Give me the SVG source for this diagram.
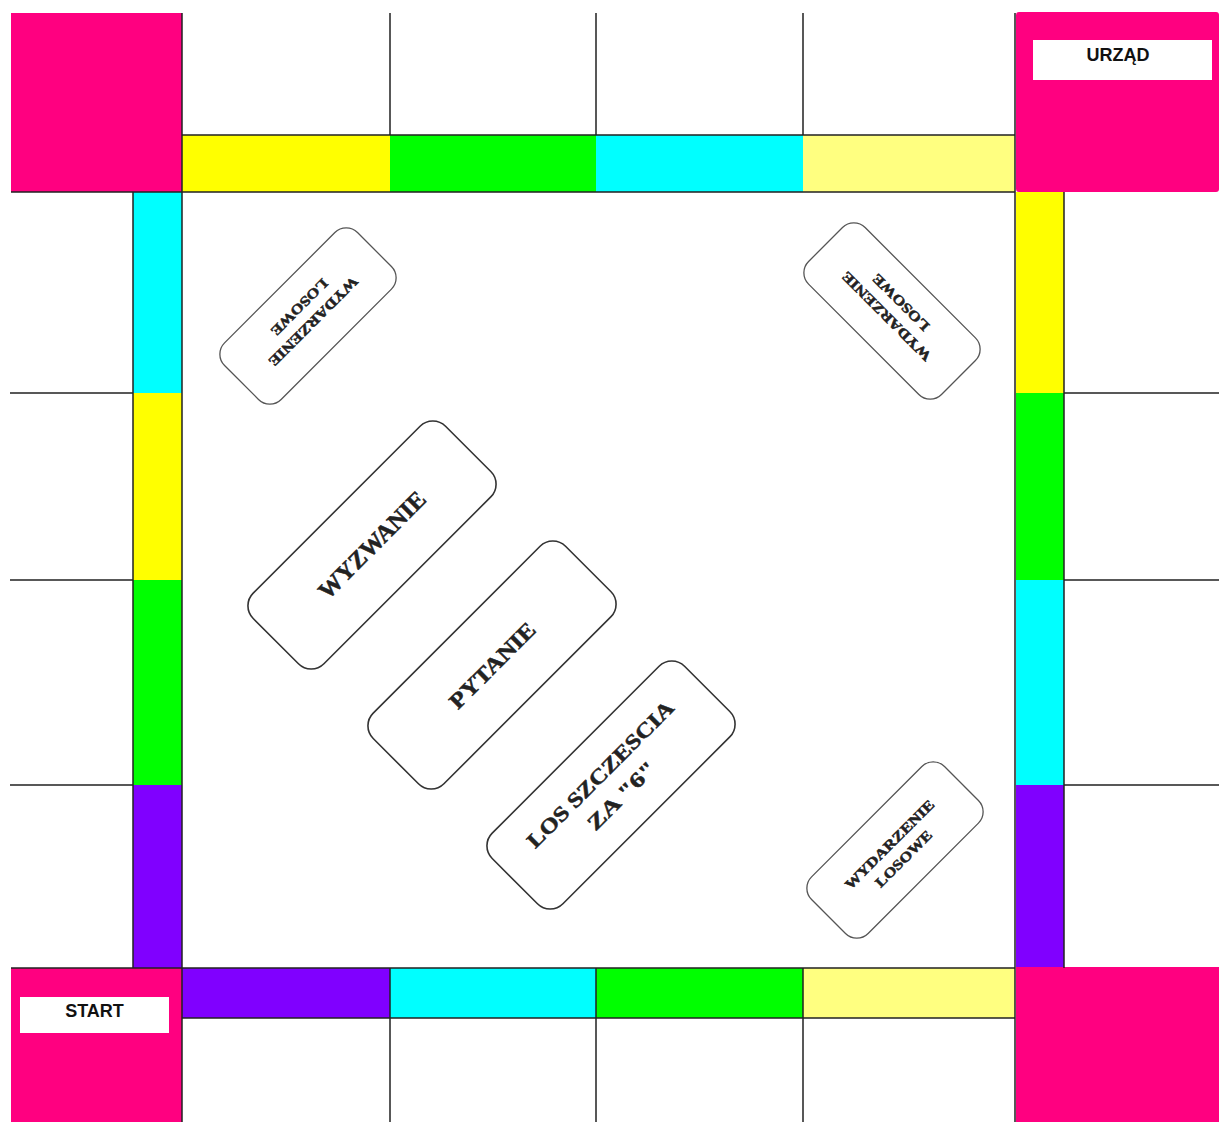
<svg xmlns="http://www.w3.org/2000/svg" width="1219" height="1122" viewBox="0 0 1219 1122">
<style>
.pink{fill:#FF0080}
.ln{stroke:#222;stroke-width:1.5;fill:none}
.card{fill:#fff;stroke:#333;stroke-width:1.6}
.small{fill:#fff;stroke:#555;stroke-width:1.3}
.ct{font-family:"Liberation Serif","DejaVu Serif",serif;font-weight:bold;fill:#222;stroke:#222;stroke-width:0.5;text-anchor:middle}
.lbl{font-family:"Liberation Sans",Arial,sans-serif;font-weight:bold;font-size:18px;fill:#111;text-anchor:middle}
</style>
<rect width="1219" height="1122" fill="#fff"/>

<!-- corners -->
<g id="corner-tl"><rect class="pink" x="11" y="13" width="171" height="179"/></g>
<g id="corner-tr"><rect class="pink" x="1016" y="12" width="203" height="180" rx="3"/>
<rect x="1033" y="40" width="179" height="40" fill="#fff"/>
<text class="lbl" x="1118" y="61">URZĄD</text></g>
<g id="corner-bl"><rect class="pink" x="11" y="968" width="171" height="154"/>
<rect x="20" y="997" width="149" height="36" fill="#fff"/>
<text class="lbl" x="94.5" y="1017">START</text></g>
<g id="corner-br"><rect class="pink" x="1016" y="967" width="203" height="155"/></g>

<!-- top row strips -->
<g id="top-row">
<rect x="182" y="135" width="208" height="57" fill="#FFFF00"/>
<rect x="390" y="135" width="206" height="57" fill="#00FF00"/>
<rect x="596" y="135" width="207" height="57" fill="#00FFFF"/>
<rect x="803" y="135" width="212" height="57" fill="#FFFF80"/>
</g>
<!-- bottom row strips -->
<g id="bottom-row">
<rect x="182" y="968" width="208" height="50" fill="#8000FF"/>
<rect x="390" y="968" width="206" height="50" fill="#00FFFF"/>
<rect x="596" y="968" width="207" height="50" fill="#00FF00"/>
<rect x="803" y="968" width="212" height="50" fill="#FFFF80"/>
</g>
<!-- left column -->
<g id="left-col">
<rect x="133" y="192" width="49" height="201" fill="#00FFFF"/>
<rect x="133" y="393" width="49" height="187" fill="#FFFF00"/>
<rect x="133" y="580" width="49" height="205" fill="#00FF00"/>
<rect x="133" y="785" width="49" height="183" fill="#8000FF"/>
</g>
<!-- right column -->
<g id="right-col">
<rect x="1016" y="192" width="48" height="201" fill="#FFFF00"/>
<rect x="1016" y="393" width="48" height="187" fill="#00FF00"/>
<rect x="1016" y="580" width="48" height="205" fill="#00FFFF"/>
<rect x="1016" y="785" width="48" height="182" fill="#8000FF"/>
</g>

<!-- grid lines -->
<g id="connectors" class="ln">
<path d="M11 192H182M182 13V1122M390 13V135M596 13V135M803 13V135M1015 13V1122M182 135H1015M182 192H1015"/>
<path d="M182 968H1015M182 1018H1015M390 968V1122M596 968V1122M803 968V1122M11 968H182"/>
<path d="M133 192V968M10 393H133M10 580H133M10 785H133"/>
<path d="M1064 192V968M1064 393H1219M1064 580H1219M1064 785H1219"/>
</g>

<!-- small cards -->
<g id="card-tl" transform="translate(308,316) rotate(135)">
<rect class="small" x="-94" y="-40" width="188" height="80" rx="16"/>
<text class="ct" font-size="14" y="-3" textLength="120" lengthAdjust="spacingAndGlyphs">WYDARZENIE</text>
<text class="ct" font-size="14" y="17" textLength="74" lengthAdjust="spacingAndGlyphs">LOSOWE</text>
</g>
<g id="card-tr" transform="translate(892,311) rotate(225)">
<rect class="small" x="-94" y="-40" width="188" height="80" rx="16"/>
<text class="ct" font-size="14" y="-3" textLength="120" lengthAdjust="spacingAndGlyphs">WYDARZENIE</text>
<text class="ct" font-size="14" y="17" textLength="74" lengthAdjust="spacingAndGlyphs">LOSOWE</text>
</g>
<g id="card-br" transform="translate(895,850) rotate(-45)">
<rect class="small" x="-94" y="-40" width="188" height="80" rx="16"/>
<text class="ct" font-size="14" y="-3" textLength="120" lengthAdjust="spacingAndGlyphs">WYDARZENIE</text>
<text class="ct" font-size="14" y="17" textLength="74" lengthAdjust="spacingAndGlyphs">LOSOWE</text>
</g>

<!-- big cards -->
<g id="card-wyzwanie" transform="translate(372,545) rotate(-45)">
<rect class="card" x="-136" y="-50" width="272" height="100" rx="18"/>
<text class="ct" font-size="24" y="8" textLength="141" lengthAdjust="spacingAndGlyphs">WYZWANIE</text>
</g>
<g id="card-pytanie" transform="translate(492,665) rotate(-45)">
<rect class="card" x="-136" y="-50" width="272" height="100" rx="18"/>
<text class="ct" font-size="22" y="8" textLength="112" lengthAdjust="spacingAndGlyphs">PYTANIE</text>
</g>
<g id="card-los" transform="translate(611,785) rotate(-45)">
<rect class="card" x="-136" y="-50" width="272" height="100" rx="18"/>
<text class="ct" font-size="21" y="-8" textLength="198" lengthAdjust="spacingAndGlyphs">LOS SZCZESCIA</text>
<text class="ct" font-size="21" y="22" textLength="88" lengthAdjust="spacingAndGlyphs">ZA "6"</text>
</g>
</svg>
